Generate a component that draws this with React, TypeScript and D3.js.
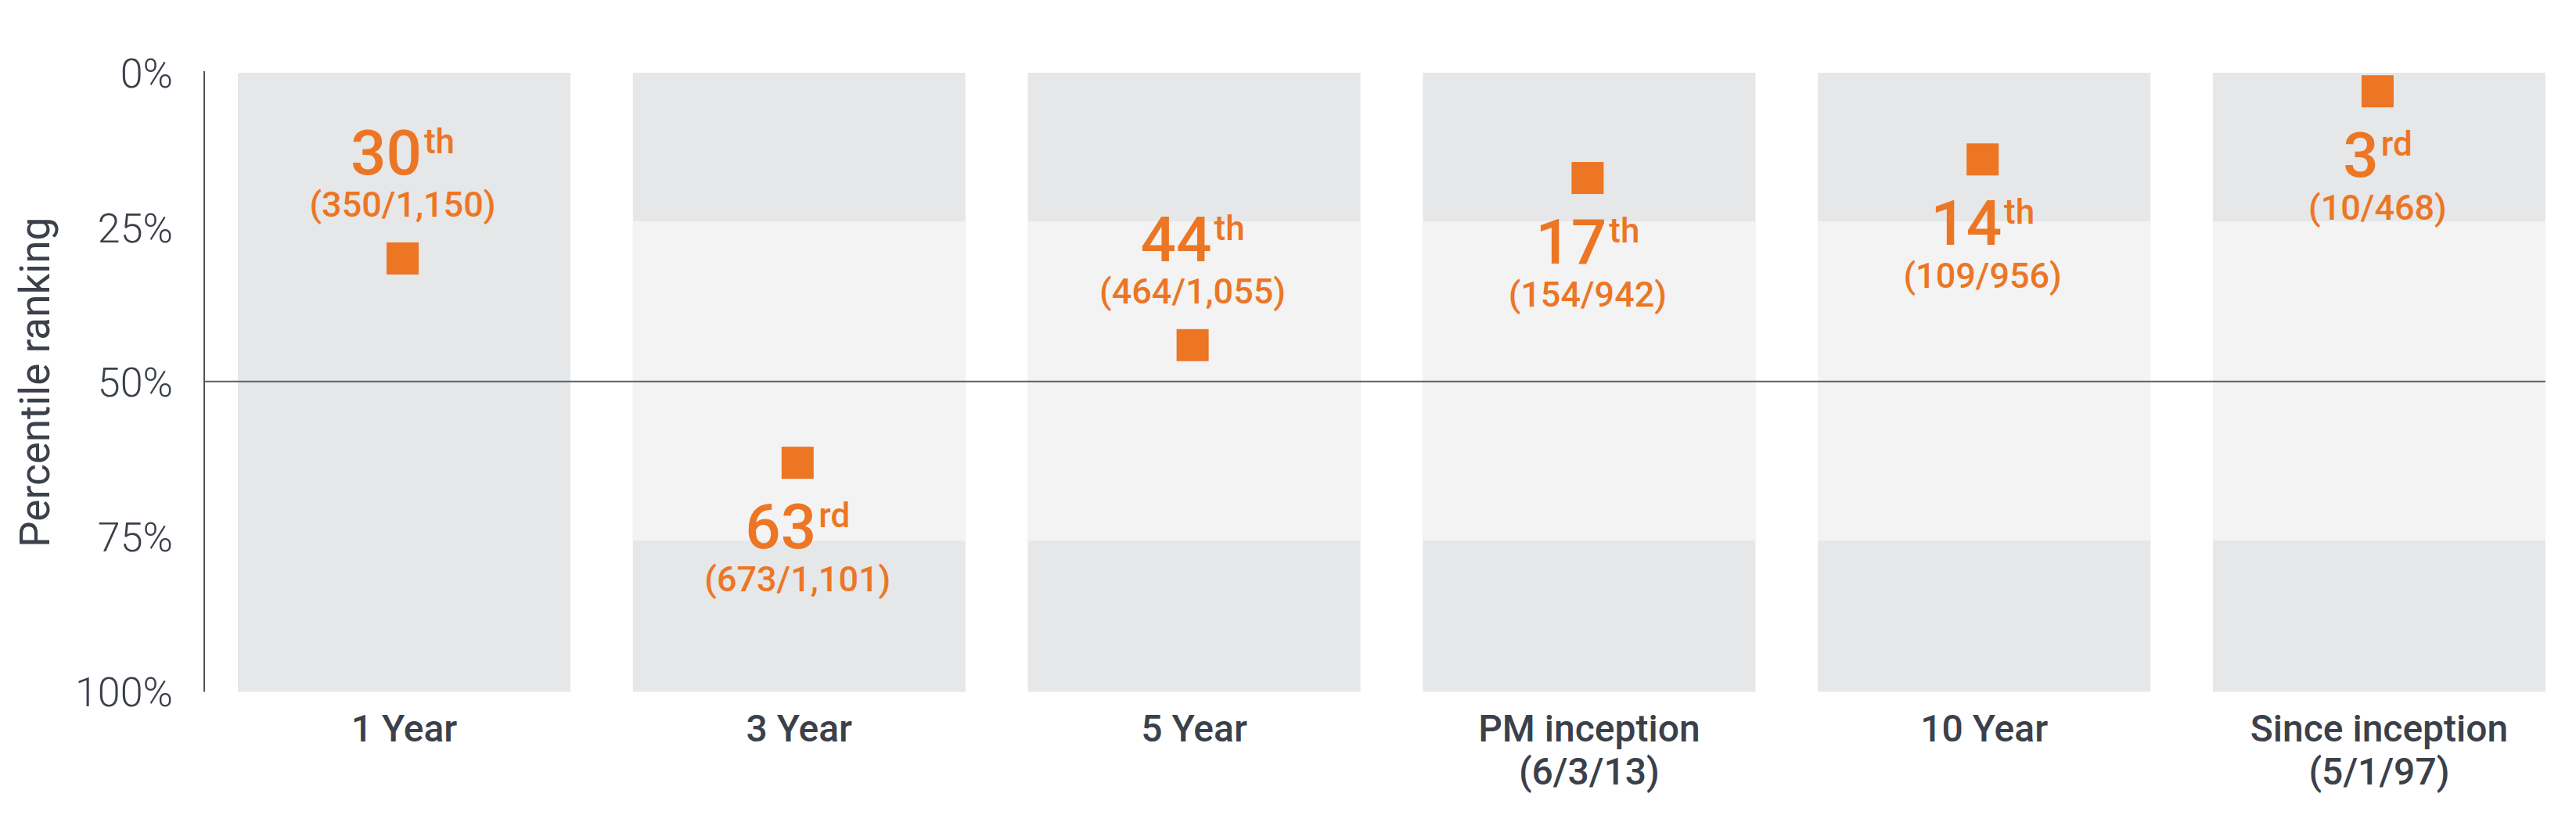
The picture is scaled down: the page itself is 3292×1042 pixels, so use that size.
import React from "react";
import * as d3 from "d3";

const categories = ["1 Year", "3 Year", "5 Year", "PM inception", "10 Year", "Since inception"];
const categorySubtitles = ["", "", "", "(6/3/13)", "", "(5/1/97)"];
const percentiles = [30, 63, 44, 17, 14, 3];
const ordinalSuffixes = ["th", "rd", "th", "th", "th", "rd"];
const rankCounts = ["(350/1,150)", "(673/1,101)", "(464/1,055)", "(154/942)", "(109/956)", "(10/468)"];
const labelAbove = [true, false, true, false, false, false];
const showMiddleBand = [false, true, true, true, true, true];
const yTicks = [0, 25, 50, 75, 100];
const bandBounds = [24, 75.6];
const medianLine = 50;

const W = 3292;
const H = 1042;
const ORANGE = "#EC7624";
const DARK = "#E6E7E8";
const LIGHT = "#F3F3F3";
const AXIS = "#4d525a";
const TEXT = "#3b404a";
const FONT = "Roboto, 'Noto Sans', sans-serif";

export default function App() {
  const x = d3
    .scaleBand<string>()
    .domain(categories)
    .range([304, 3253])
    .paddingInner(0.158)
    .paddingOuter(0);
  const y = d3.scaleLinear().domain([0, 100]).range([93, 884.5]);
  const bw = x.bandwidth();
  const sq = 41;

  return (
    <svg
      width={W}
      height={H}
      style={{ position: "absolute", left: 0, top: 0, display: "block", background: "#fff" }}
      fontFamily={FONT}
    >
      {/* panels */}
      {categories.map((c, i) => {
        const x0 = x(c)!;
        return (
          <g key={"p" + i}>
            <rect x={x0} y={y(0)} width={bw} height={y(100) - y(0)} fill={DARK} />
            {showMiddleBand[i] && (
              <rect
                x={x0}
                y={y(bandBounds[0])}
                width={bw}
                height={y(bandBounds[1]) - y(bandBounds[0])}
                fill={LIGHT}
              />
            )}
          </g>
        );
      })}

      {/* y axis line */}
      <line x1={261} x2={261} y1={y(0) - 2} y2={y(100)} stroke={AXIS} strokeWidth={2} />
      {/* median line */}
      <line
        x1={261}
        x2={x(categories[categories.length - 1])! + bw}
        y1={y(medianLine) - 1}
        y2={y(medianLine) - 1}
        stroke="#5b6068"
        strokeWidth={2}
      />

      {/* y ticks */}
      {yTicks.map((t) => (
        <text
          key={"t" + t}
          x={221}
          y={y(t)}
          dy="0.36em"
          textAnchor="end"
          fontSize={52}
          fontWeight={300}
          fill={TEXT}
        >
          {t}%
        </text>
      ))}

      {/* y title */}
      <text
        transform={`translate(63, ${y(50)}) rotate(-90)`}
        textAnchor="middle"
        fontSize={53}
        fontWeight={400}
        fill={TEXT}
      >
        Percentile ranking
      </text>

      {/* category labels */}
      {categories.map((c, i) => {
        const cx = x(c)! + bw / 2;
        return (
          <g key={"c" + i}>
            <text x={cx} y={948} textAnchor="middle" fontSize={48} fontWeight={500} fill={TEXT}>
              {c}
            </text>
            {categorySubtitles[i] && (
              <text x={cx} y={1003} textAnchor="middle" fontSize={48} fontWeight={500} fill={TEXT}>
                {categorySubtitles[i]}
              </text>
            )}
          </g>
        );
      })}

      {/* markers and labels */}
      {categories.map((c, i) => {
        const cx = x(c)! + bw / 2 - 2;
        const cy = y(percentiles[i]);
        const bigY = labelAbove[i] ? cy - 107 : cy + 109;
        const subY = labelAbove[i] ? cy - 53 : cy + 164;
        return (
          <g key={"m" + i}>
            <rect x={cx - sq / 2} y={cy - sq / 2} width={sq} height={sq} fill={ORANGE} />
            <text x={cx} y={bigY} textAnchor="middle" fill={ORANGE} fontWeight={500} fontSize={80}>
              <tspan>{percentiles[i]}</tspan>
              <tspan fontSize={44} dx={3} dy={-27}>
                {ordinalSuffixes[i]}
              </tspan>
            </text>
            <text x={cx} y={subY} textAnchor="middle" fill={ORANGE} fontWeight={500} fontSize={45}>
              {rankCounts[i]}
            </text>
          </g>
        );
      })}
    </svg>
  );
}
